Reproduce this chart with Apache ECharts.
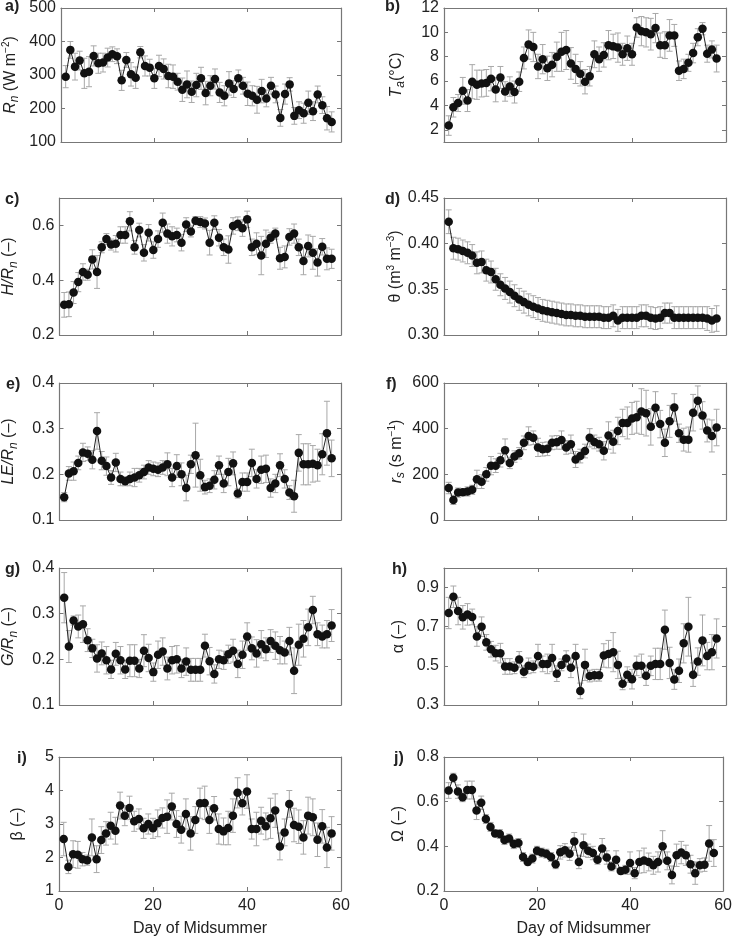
<!DOCTYPE html>
<html>
<head>
<meta charset="utf-8">
<script src="https://cdn.jsdelivr.net/npm/echarts@6/dist/echarts.min.js"></script>
<style>
html,body{margin:0;padding:0;background:#fff;}
#chart{width:735px;height:938px;}
</style>
</head>
<body>
<div id="chart"></div>
<script>
// day of midsummer (x values)
var days = [1,2,3,4,5,6,7,8,9,10,11,12,13,14,15,16,17,18,19,20,21,22,23,24,25,26,27,28,29,30,
	31,32,33,34,35,36,37,38,39,40,41,42,43,44,45,46,47,48,49,50,51,52,53,54,55,56,57,58];
var xTicks = [0, 60, 20];

// a) net radiation
var rn = [295,375,325,343,305,310,357,335,337,352,362,356,284,345,302,292,368,327,322,290,
	327,318,297,295,280,256,272,250,270,290,246,268,288,248,238,275,258,290,268,244,
	238,226,252,230,268,242,172,243,272,178,195,186,217,192,242,210,171,160];
var rnErr = [33,25,40,28,45,45,30,30,28,28,22,22,30,22,35,32,17,30,25,30,
	32,30,35,35,25,35,40,32,35,33,35,30,30,30,30,35,25,25,25,35,
	30,40,35,25,25,25,25,30,20,25,25,30,35,28,25,25,35,30];
var rnAxis = [100, 500, 100];

// b) air temperature
var ta = [2.35,3.85,4.2,5.2,4.4,5.95,5.7,5.8,5.85,6.2,5.3,6.3,5.15,5.55,5.1,5.95,7.9,9.0,8.8,7.2,
	7.8,7.05,7.35,8.0,8.4,8.55,7.45,7.0,6.6,5.95,6.4,8.2,7.8,8.15,8.95,8.85,8.75,8.2,8.7,8.2,
	10.4,10.1,10.0,9.85,10.35,8.95,8.95,9.75,9.75,6.85,7.0,7.5,8.3,9.6,10.3,8.25,8.6,7.85];
var taErr = [0.8,0.8,0.7,1.1,0.9,1.4,1.2,1.1,1.1,1.0,1.0,0.9,0.8,0.8,0.9,0.8,0.9,1.2,1.2,1.0,
	1.2,1.0,1.0,1.2,1.6,1.6,1.3,1.2,1.0,1.0,0.8,1.1,1.0,1.0,1.2,1.0,1.2,0.9,1.0,0.9,
	0.8,1.2,1.2,1.3,1.2,1.0,1.1,1.3,0.9,0.8,0.8,0.7,0.8,0.7,0.5,0.7,0.7,1.1];
var taAxis = [1, 12, 2];

// c) H/Rn
var hrn = [0.31,0.312,0.355,0.393,0.43,0.42,0.476,0.43,0.52,0.55,0.53,0.533,0.565,0.565,0.615,0.52,0.583,0.5,0.573,0.51,
	0.55,0.61,0.57,0.56,0.565,0.537,0.603,0.578,0.617,0.612,0.607,0.537,0.61,0.555,0.52,0.512,0.598,0.606,0.59,0.622,
	0.52,0.533,0.49,0.533,0.555,0.57,0.48,0.485,0.558,0.57,0.52,0.47,0.525,0.5,0.465,0.522,0.478,0.478];
var hrnErr = [0.045,0.045,0.04,0.035,0.03,0.02,0.035,0.06,0.02,0.02,0.02,0.03,0.03,0.03,0.035,0.025,0.025,0.03,0.03,0.03,
	0.03,0.035,0.035,0.035,0.025,0.03,0.025,0.02,0.015,0.02,0.02,0.045,0.025,0.03,0.03,0.05,0.03,0.025,0.03,0.03,
	0.03,0.04,0.07,0.05,0.02,0.02,0.04,0.04,0.03,0.035,0.03,0.05,0.04,0.06,0.05,0.03,0.04,0.035];
var hrnAxis = [0.2, 0.7, 0.2];

// d) soil moisture
var theta = [0.424,0.395,0.394,0.392,0.39,0.387,0.379,0.380,0.371,0.369,0.361,0.355,0.351,0.347,0.343,0.339,0.336,0.333,0.331,0.329,
	0.327,0.326,0.325,0.324,0.323,0.322,0.322,0.321,0.321,0.320,0.320,0.320,0.320,0.319,0.319,0.321,0.316,0.319,0.319,0.319,
	0.319,0.321,0.321,0.319,0.318,0.319,0.324,0.324,0.319,0.319,0.319,0.319,0.319,0.319,0.319,0.318,0.316,0.318];
var thetaErr = [0.013,0.012,0.012,0.012,0.012,0.012,0.012,0.012,0.012,0.012,0.012,0.012,0.012,0.012,0.012,0.012,0.012,0.012,0.012,0.012,
	0.012,0.012,0.012,0.012,0.012,0.012,0.012,0.012,0.012,0.012,0.012,0.012,0.012,0.012,0.012,0.012,0.012,0.012,0.012,0.012,
	0.012,0.012,0.012,0.012,0.012,0.012,0.011,0.011,0.012,0.012,0.012,0.012,0.012,0.012,0.012,0.013,0.013,0.014];
var thetaAxis = [0.30, 0.45, 0.05];

// e) LE/Rn
var lern = [0.15,0.202,0.207,0.225,0.248,0.245,0.232,0.295,0.23,0.218,0.193,0.226,0.19,0.185,0.19,0.193,0.198,0.205,0.215,0.212,
	0.21,0.215,0.222,0.193,0.218,0.2,0.17,0.222,0.242,0.198,0.172,0.175,0.188,0.22,0.18,0.205,0.224,0.158,0.183,0.183,
	0.225,0.19,0.21,0.212,0.17,0.18,0.22,0.19,0.16,0.152,0.247,0.222,0.222,0.223,0.22,0.244,0.29,0.235];
var lernErr = [0.01,0.015,0.02,0.015,0.02,0.015,0.02,0.04,0.02,0.02,0.015,0.02,0.015,0.01,0.015,0.02,0.015,0.015,0.015,0.015,
	0.015,0.015,0.025,0.02,0.025,0.025,0.028,0.02,0.07,0.035,0.015,0.015,0.02,0.02,0.02,0.03,0.025,0.01,0.02,0.02,
	0.03,0.02,0.03,0.03,0.02,0.02,0.025,0.02,0.015,0.035,0.04,0.045,0.045,0.04,0.035,0.045,0.07,0.04];
var lernAxis = [0.1, 0.4, 0.1];

// f) surface resistance
var rs = [140,88,120,122,125,132,178,168,200,238,238,262,305,250,278,292,338,368,360,318,
	310,312,338,340,350,318,332,265,280,302,360,342,332,303,370,343,390,425,425,445,
	450,475,468,408,492,420,338,432,493,380,352,352,470,522,458,392,368,405];
var rsErr = [25,20,20,15,20,20,40,30,30,40,30,30,50,25,25,25,30,40,30,40,
	30,30,30,30,40,30,40,35,30,30,40,30,30,40,60,50,60,60,70,70,
	70,100,100,80,70,60,60,70,60,40,50,55,80,65,60,50,70,80];
var rsAxis = [0, 600, 200];

// g) G/Rn
var grn = [0.335,0.228,0.285,0.272,0.277,0.242,0.224,0.202,0.213,0.198,0.178,0.212,0.198,0.178,0.197,0.197,0.18,0.219,0.203,0.172,
	0.21,0.217,0.18,0.198,0.2,0.18,0.195,0.177,0.177,0.177,0.23,0.196,0.168,0.2,0.198,0.211,0.219,0.19,0.21,0.25,
	0.224,0.213,0.233,0.222,0.24,0.23,0.22,0.215,0.24,0.175,0.232,0.245,0.27,0.308,0.255,0.25,0.255,0.274];
var grnErr = [0.055,0.035,0.01,0.025,0.04,0.025,0.02,0.03,0.025,0.03,0.02,0.025,0.03,0.02,0.035,0.035,0.02,0.035,0.03,0.02,
	0.03,0.03,0.025,0.03,0.03,0.02,0.03,0.025,0.025,0.025,0.025,0.03,0.02,0.02,0.02,0.02,0.025,0.03,0.03,0.03,
	0.025,0.03,0.03,0.025,0.025,0.03,0.03,0.025,0.03,0.05,0.045,0.04,0.04,0.03,0.025,0.025,0.03,0.035];
var grnAxis = [0.1, 0.4, 0.1];

// h) Priestley-Taylor alpha
var alpha = [0.77,0.853,0.78,0.748,0.763,0.75,0.65,0.7,0.62,0.585,0.565,0.565,0.497,0.497,0.49,0.533,0.47,0.5,0.495,0.55,
	0.51,0.51,0.54,0.46,0.505,0.537,0.49,0.55,0.372,0.505,0.448,0.452,0.452,0.553,0.56,0.57,0.505,0.408,0.455,0.432,
	0.5,0.5,0.45,0.5,0.51,0.51,0.685,0.515,0.43,0.475,0.615,0.7,0.455,0.522,0.63,0.55,0.57,0.64];
var alphaErr = [0.08,0.055,0.07,0.06,0.055,0.04,0.05,0.05,0.04,0.04,0.04,0.05,0.04,0.04,0.03,0.04,0.03,0.04,0.03,0.06,
	0.04,0.05,0.07,0.04,0.03,0.04,0.05,0.06,0.04,0.08,0.03,0.03,0.03,0.06,0.07,0.1,0.07,0.03,0.04,0.05,
	0.05,0.06,0.05,0.05,0.08,0.08,0.1,0.08,0.05,0.06,0.1,0.15,0.06,0.07,0.13,0.07,0.09,0.1];
var alphaAxis = [0.3, 1.0, 0.2];

// i) Bowen ratio
var beta = [2.55,1.72,2.1,2.08,1.95,1.92,2.6,1.95,2.52,2.72,2.95,2.8,3.55,3.25,3.48,3.08,3.15,2.87,3.0,2.87,
	3.02,3.18,3.22,3.52,3.0,2.83,3.3,2.72,3.12,3.62,3.63,3.12,3.47,2.85,2.78,2.88,3.25,3.93,3.62,3.97,
	2.85,2.85,3.1,2.93,3.17,3.4,2.33,2.75,3.6,2.97,2.92,2.6,3.25,3.2,2.53,2.93,2.3,2.72];
var betaErr = [0.5,0.2,0.4,0.4,0.2,0.15,0.55,0.4,0.4,0.35,0.4,0.4,0.4,0.3,0.35,0.3,0.3,0.3,0.3,0.3,
	0.4,0.3,0.5,0.4,0.4,0.4,0.45,0.5,0.4,0.45,0.5,0.4,0.35,0.45,0.4,0.5,0.5,0.45,0.35,0.5,
	0.3,0.5,0.4,0.4,0.6,0.5,0.4,0.4,0.4,0.5,0.5,0.5,0.55,0.55,0.5,0.5,0.6,0.5];
var betaAxis = [1, 5, 1];

// j) decoupling coefficient
var omega = [0.65,0.707,0.645,0.62,0.652,0.652,0.56,0.595,0.522,0.487,0.458,0.455,0.428,0.435,0.41,0.415,0.352,0.33,0.345,0.38,
	0.372,0.367,0.352,0.32,0.373,0.382,0.367,0.422,0.33,0.405,0.38,0.37,0.34,0.39,0.35,0.31,0.34,0.29,0.295,0.325,
	0.28,0.33,0.337,0.33,0.315,0.33,0.4,0.335,0.272,0.36,0.372,0.36,0.32,0.28,0.315,0.318,0.413,0.37];
var omegaErr = [0.035,0.02,0.03,0.02,0.04,0.04,0.04,0.03,0.02,0.02,0.015,0.02,0.02,0.02,0.02,0.02,0.02,0.015,0.02,0.02,
	0.02,0.02,0.02,0.02,0.03,0.03,0.03,0.04,0.03,0.05,0.03,0.03,0.02,0.045,0.03,0.02,0.04,0.015,0.02,0.05,
	0.025,0.05,0.055,0.04,0.04,0.045,0.07,0.04,0.04,0.05,0.05,0.045,0.04,0.05,0.03,0.03,0.08,0.06];
var omegaAxis = [0.2, 0.8, 0.2];

var FONT = "'Liberation Sans', Arial, sans-serif";
var TXT = '#222';
var FRAME = '#777';
var FS = 16;

// panel layout: col 0 = left, col 1 = right; row 0..4
var panels = [
	{tag:'a)', vals:rn, errs:rnErr, axis:rnAxis, col:0, row:0, name:'{i|R}{s|n} (W m{p|−2})', dec:0},
	{tag:'b)', vals:ta, errs:taErr, axis:taAxis, col:1, row:0, name:'{i|T}{s|a}(°C)', dec:0, nice:true},
	{tag:'c)', vals:hrn, errs:hrnErr, axis:hrnAxis, col:0, row:1, name:'{i|H/R}{s|n} (–)', dec:1},
	{tag:'d)', vals:theta, errs:thetaErr, axis:thetaAxis, col:1, row:1, name:'θ (m{p|3} m{p|−3})', dec:2},
	{tag:'e)', vals:lern, errs:lernErr, axis:lernAxis, col:0, row:2, name:'{i|LE/R}{s|n} (–)', dec:1},
	{tag:'f)', vals:rs, errs:rsErr, axis:rsAxis, col:1, row:2, name:'{i|r}{s|s} (s m{p|−1})', dec:0},
	{tag:'g)', vals:grn, errs:grnErr, axis:grnAxis, col:0, row:3, name:'{i|G/R}{s|n} (–)', dec:1},
	{tag:'h)', vals:alpha, errs:alphaErr, axis:alphaAxis, col:1, row:3, name:'α (–)', dec:1},
	{tag:'i)', vals:beta, errs:betaErr, axis:betaAxis, col:0, row:4, name:'β (–)', dec:0, gap:33},
	{tag:'j)', vals:omega, errs:omegaErr, axis:omegaAxis, col:1, row:4, name:'Ω (–)', dec:1}
];

var colLeft = [59, 444];
var rowTop = [5, 198, 383, 568, 757];
var plotW = 282, plotH = 137;
var tagLeft = {'a)':5, 'b)':385, 'c)':5, 'd)':385, 'e)':6, 'f)':386, 'g)':5, 'h)':392, 'i)':17, 'j)':394};

function renderErr(params, api){
	var x = api.value(0);
	var lo = api.coord([x, api.value(1)]);
	var hi = api.coord([x, api.value(2)]);
	var w = 3;
	var st = {stroke:'#a8a8a8', lineWidth:1};
	return {
		type:'group',
		children:[
			{type:'line', shape:{x1:lo[0], y1:lo[1], x2:hi[0], y2:hi[1]}, style:st},
			{type:'line', shape:{x1:lo[0]-w, y1:lo[1], x2:lo[0]+w, y2:lo[1]}, style:st},
			{type:'line', shape:{x1:hi[0]-w, y1:hi[1], x2:hi[0]+w, y2:hi[1]}, style:st}
		]
	};
}

var chart = echarts.init(document.getElementById('chart'));
var option = {
	animation:false,
	backgroundColor:'#fff',
	textStyle:{fontFamily:FONT},
	title:[], grid:[], xAxis:[], yAxis:[], series:[]
};

panels.forEach(function(p, i){
	var left = colLeft[p.col], top = rowTop[p.row];
	var bottomRow = p.row === 4;
	option.title.push({
		text:p.tag, left:tagLeft[p.tag], top:top - 6, padding:0,
		textStyle:{fontFamily:FONT, fontWeight:'bold', fontSize:FS, color:TXT}
	});
	option.grid.push({left:left, top:top, width:plotW, height:plotH});

	var tickStyle = {show:true, inside:true, length:4, lineStyle:{color:FRAME, width:1}};
	var lineStyle = {show:true, onZero:false, lineStyle:{color:FRAME, width:1.2}};
	// bottom and top x axes
	option.xAxis.push({
		gridIndex:i, type:'value', position:'bottom', min:xTicks[0], max:xTicks[1], interval:xTicks[2],
		axisLine:lineStyle, axisTick:tickStyle, splitLine:{show:false},
		axisLabel:{show:bottomRow, color:TXT, fontSize:FS, fontFamily:FONT, margin:7},
		name:bottomRow ? 'Day of Midsummer' : '', nameLocation:'middle', nameGap:30,
		nameTextStyle:{color:TXT, fontSize:FS, fontFamily:FONT}
	});
	option.xAxis.push({
		gridIndex:i, type:'value', position:'top', min:xTicks[0], max:xTicks[1], interval:xTicks[2],
		axisLine:lineStyle, axisTick:tickStyle, splitLine:{show:false}, axisLabel:{show:false}
	});
	// left and right y axes
	var yBase = {
		gridIndex:i, type:'value', min:p.axis[0], max:p.axis[1], splitLine:{show:false},
		axisLine:lineStyle, axisTick:tickStyle
	};
	if(p.nice){
		yBase.minInterval = p.axis[2];
		yBase.maxInterval = p.axis[2];
	}else{
		yBase.interval = p.axis[2];
	}
	// hide the extra label ECharts adds at max when the span is not a whole number of steps
	var steps = (p.axis[1] - p.axis[0]) / p.axis[2];
	var wholeSteps = Math.abs(steps - Math.round(steps)) < 1e-6;
	var yl = Object.assign({}, yBase, {
		position:'left',
		axisLabel:{
			color:TXT, fontSize:FS, fontFamily:FONT, margin:5,
			showMinLabel:!p.nice, showMaxLabel:p.nice || wholeSteps,
			formatter:function(v){ return v.toFixed(p.dec); }
		},
		name:p.name, nameLocation:'middle', nameGap:p.gap || (p.col ? 37 : 40),
		nameTextStyle:{
			color:TXT, fontSize:FS, fontFamily:FONT,
			rich:{
				i:{fontStyle:'italic', fontSize:FS, fontFamily:FONT, color:TXT},
				s:{fontStyle:'italic', fontSize:12, fontFamily:FONT, color:TXT, padding:[9,0,0,0]},
				p:{fontSize:10, fontFamily:FONT, color:TXT, padding:[0,0,9,0]}
			}
		}
	});
	option.yAxis.push(yl);
	option.yAxis.push(Object.assign({}, yBase, {position:'right', axisLabel:{show:false}}));

	var errData = [], ptData = [];
	for(var k=0;k<days.length;k++){
		errData.push([days[k], p.vals[k]-p.errs[k], p.vals[k]+p.errs[k]]);
		ptData.push([days[k], p.vals[k]]);
	}
	option.series.push({
		type:'custom', xAxisIndex:2*i, yAxisIndex:2*i, renderItem:renderErr,
		encode:{x:0, y:[1,2]}, data:errData, z:1, silent:true
	});
	option.series.push({
		type:'line', xAxisIndex:2*i, yAxisIndex:2*i, data:ptData,
		symbol:'circle', symbolSize:8.5, showSymbol:true,
		itemStyle:{color:'#111'}, lineStyle:{color:'#222', width:1}, z:3, silent:true
	});
});

chart.setOption(option);
</script>
</body>
</html>
